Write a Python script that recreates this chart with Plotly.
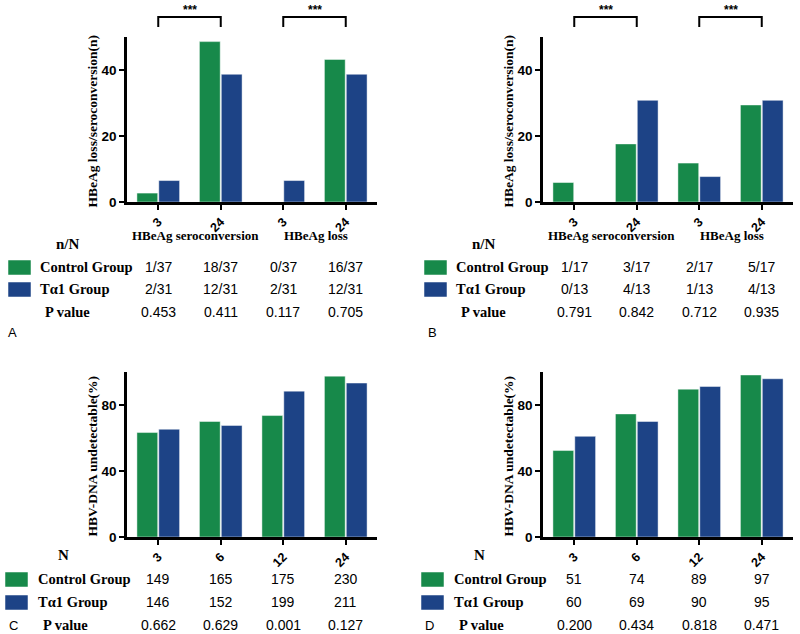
import plotly.graph_objects as go

W, H = 800, 634

GREEN = "#17894a"
BLUE = "#1d4386"
SERIF = "Liberation Serif"
SANS = "Liberation Sans"

# ---- data ----
top_cats = ["sero-3", "sero-24", "loss-3", "loss-24"]
top_ticks = ["3", "24", "3", "24"]
bot_cats = ["3", "6", "12", "24"]

a_ctrl = [2.7, 48.6, 0, 43.2]
a_ta1 = [6.5, 38.7, 6.5, 38.7]
b_ctrl = [5.9, 17.6, 11.8, 29.4]
b_ta1 = [0, 30.8, 7.7, 30.8]
c_ctrl = [63.3, 70.0, 73.6, 97.5]
c_ta1 = [65.3, 67.6, 88.4, 93.3]
d_ctrl = [52.4, 74.6, 89.6, 98.2]
d_ta1 = [61.0, 70.0, 91.2, 95.9]

a_tab_ctrl = ["1/37", "18/37", "0/37", "16/37"]
a_tab_ta1 = ["2/31", "12/31", "2/31", "12/31"]
a_tab_p = ["0.453", "0.411", "0.117", "0.705"]
b_tab_ctrl = ["1/17", "3/17", "2/17", "5/17"]
b_tab_ta1 = ["0/13", "4/13", "1/13", "4/13"]
b_tab_p = ["0.791", "0.842", "0.712", "0.935"]
c_tab_ctrl = ["149", "165", "175", "230"]
c_tab_ta1 = ["146", "152", "199", "211"]
c_tab_p = ["0.662", "0.629", "0.001", "0.127"]
d_tab_ctrl = ["51", "74", "89", "97"]
d_tab_ta1 = ["60", "69", "90", "95"]
d_tab_p = ["0.200", "0.434", "0.818", "0.471"]


def px(x):
    return x / W


def py(y):
    return 1 - y / H


def note(x, y, text, size, family=SERIF, bold=True, xref="paper", xanchor="center", **kw):
    font = {"family": family, "size": size, "color": "black"}
    if bold:
        font["weight"] = "bold"
    return dict(x=x, y=y, xref=xref, yref="paper", text=text, showarrow=False,
                xanchor=xanchor, yanchor="middle", font=font, **kw)


panels = [
    dict(ax="", left=127, bottom=202, top=37, cats=top_cats, ticks=top_ticks,
         ctrl=a_ctrl, ta1=a_ta1, rng=[0, 50], dtick=20,
         ytitle="HBeAg loss/seroconversion(n)",
         tab=(a_tab_ctrl, a_tab_ta1, a_tab_p), head="n/N", letter="A"),
    dict(ax="2", left=543, bottom=202, top=37, cats=top_cats, ticks=top_ticks,
         ctrl=b_ctrl, ta1=b_ta1, rng=[0, 50], dtick=20,
         ytitle="HBeAg loss/seroconversion(n)",
         tab=(b_tab_ctrl, b_tab_ta1, b_tab_p), head="n/N", letter="B"),
    dict(ax="3", left=127, bottom=537, top=372, cats=bot_cats, ticks=bot_cats,
         ctrl=c_ctrl, ta1=c_ta1, rng=[0, 100], dtick=40,
         ytitle="HBV-DNA undetectable(%)",
         tab=(c_tab_ctrl, c_tab_ta1, c_tab_p), head="N", letter="C"),
    dict(ax="4", left=543, bottom=537, top=372, cats=bot_cats, ticks=bot_cats,
         ctrl=d_ctrl, ta1=d_ta1, rng=[0, 100], dtick=40,
         ytitle="HBV-DNA undetectable(%)",
         tab=(d_tab_ctrl, d_tab_ta1, d_tab_p), head="N", letter="D"),
]

fig = go.Figure()
annotations = []
shapes = []
layout = {}

for p in panels:
    xa, ya = "x" + p["ax"], "y" + p["ax"]
    for vals, col, nm in [(p["ctrl"], GREEN, "Control Group"), (p["ta1"], BLUE, "Tα1 Group")]:
        fig.add_trace(go.Bar(
            x=p["cats"], y=vals, xaxis=xa, yaxis=ya, name=nm,
            marker={"color": col, "line": {"color": "rgba(255,255,255,0.45)", "width": 1}},
            showlegend=False,
        ))
    layout["xaxis" + p["ax"]] = dict(
        domain=[px(p["left"]), px(p["left"] + 250)], anchor=ya,
        type="category", categoryorder="array", categoryarray=p["cats"],
        range=[-0.5, 3.5], showline=True, linecolor="black", linewidth=2.5,
        ticks="outside", ticklen=5, tickwidth=2, tickcolor="black",
        tickvals=p["cats"], ticktext=p["ticks"], tickangle=-45,
        tickfont={"family": SANS, "size": 12.5, "color": "black", "weight": "bold"},
        showgrid=False, zeroline=False, fixedrange=True, automargin=False,
    )
    layout["yaxis" + p["ax"]] = dict(
        domain=[py(p["bottom"]), py(p["top"])], anchor=xa,
        range=p["rng"], dtick=p["dtick"], showline=True, linecolor="black", linewidth=2.5,
        ticks="outside", ticklen=5, tickwidth=2, tickcolor="black",
        tickfont={"family": SANS, "size": 13.5, "color": "black", "weight": "bold"},
        showgrid=False, zeroline=False, fixedrange=True, automargin=False,
    )

    left = p["left"]
    annotations.append(note(px(left - 35), py((p["bottom"] + p["top"]) / 2 + 2),
                            p["ytitle"], 13.5, textangle=-90))

    if p["head"] == "n/N":
        rows_y = [267, 289, 312]
        lab_x = left - 89
        sw_x = left - 119
        annotations.append(note(px(left - 59), py(244), "n/N", 15))
        annotations.append(note(px(left + 68), py(235), "HBeAg seroconversion", 13))
        annotations.append(note(px(left + 189), py(235), "HBeAg loss", 13))
        letter_y = 333
        letter_x = left - 115 if p["ax"] == "" else left - 111
    else:
        rows_y = [579, 602, 625]
        lab_x = left - 91
        sw_x = left - 122
        annotations.append(note(px(left - 64), py(555), "N", 15))
        letter_y = 625
        letter_x = left - 114

    for r, (label, yy) in enumerate(zip(["Control Group", "Tα1 Group", "P value"], rows_y)):
        annotations.append(note(px(lab_x + (5 if r == 2 else 0)), py(yy), label, 14.5,
                                xanchor="left"))
        for i in range(len(p["cats"])):
            annotations.append(note(i, py(yy), p["tab"][r][i], 14, family=SANS, bold=False, xref=xa))
    for col, yy in [(GREEN, rows_y[0]), (BLUE, rows_y[1])]:
        shapes.append(dict(type="rect", xref="paper", yref="paper",
                           x0=px(sw_x), x1=px(sw_x + 23), y0=py(yy + 8), y1=py(yy - 7),
                           fillcolor=col, line={"width": 1, "color": "rgba(255,255,255,0.5)"}))
    annotations.append(note(px(letter_x), py(letter_y), p["letter"], 13, family=SANS, bold=False))

    # significance brackets on the top panels
    if p["head"] == "n/N":
        for a, b in [(0, 1), (2, 3)]:
            shapes.append(dict(
                type="path", xref=xa, yref="paper",
                path=f"M {a},{py(27)} L {a},{py(17)} L {b},{py(17)} L {b},{py(27)}",
                line={"color": "black", "width": 2},
            ))
            annotations.append(note((a + b) / 2, py(10), "***", 12, family=SANS, xref=xa))

fig.update_layout(
    width=W, height=H,
    margin={"l": 0, "r": 0, "t": 0, "b": 0},
    paper_bgcolor="white", plot_bgcolor="white",
    barmode="group", bargap=0.3, bargroupgap=0.05,
    annotations=annotations, shapes=shapes,
    **layout,
)

# page body has a default 8px margin; drop it so the 800x634 figure fills the window
fig.write_html(
    "out.html",
    config={"displayModeBar": False},
    post_script="document.body.style.margin = '0px';",
)
